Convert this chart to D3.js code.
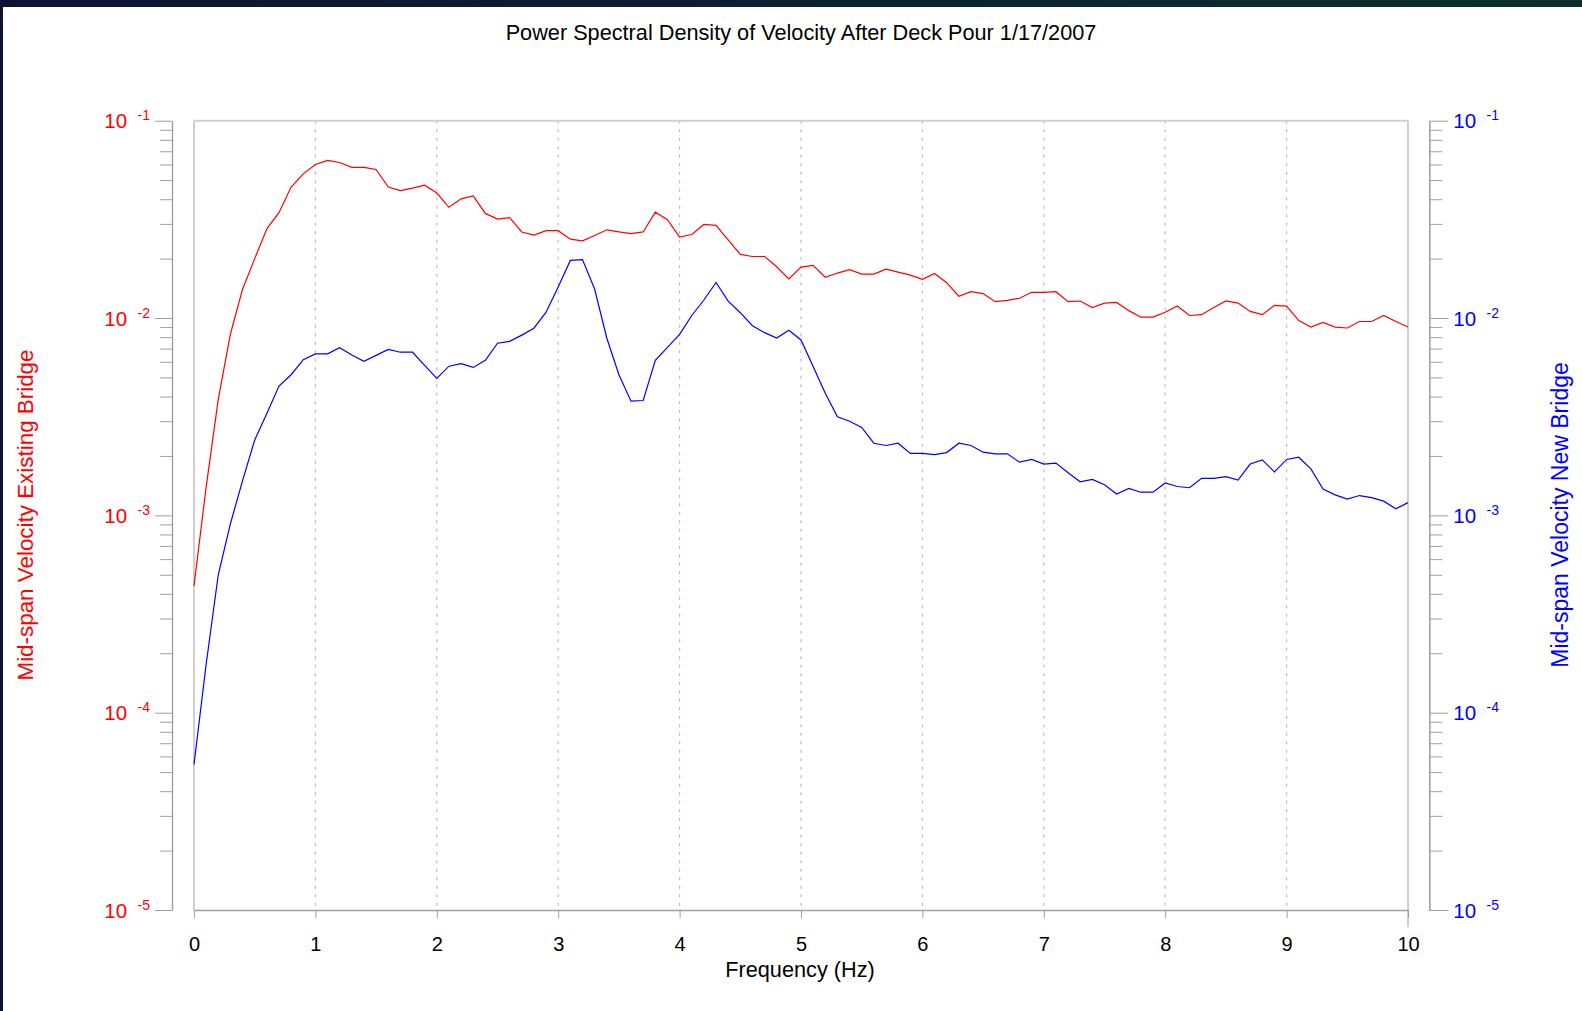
<!DOCTYPE html>
<html>
<head>
<meta charset="utf-8">
<script src="https://cdn.jsdelivr.net/npm/d3@7"></script>
<style>
  html, body { margin: 0; padding: 0; background: #fff; }
  svg { display: block; font-family: "Liberation Sans", Arial, sans-serif; }
  .axis path, .axis line { stroke: #a0a0a0; }
</style>
</head>
<body>
<svg id="chart"></svg>
<script>
const title = 'Power Spectral Density of Velocity After Deck Pour 1/17/2007';
const xLabel = 'Frequency (Hz)';
const leftLabel = 'Mid-span Velocity Existing Bridge';
const rightLabel = 'Mid-span Velocity New Bridge';

// frequency bins (Hz)
const frequency = [
  0, 0.1, 0.2, 0.3, 0.4, 0.5, 0.6, 0.7, 0.8, 0.9,
  1, 1.1, 1.2, 1.3, 1.4, 1.5, 1.6, 1.7, 1.8, 1.9,
  2, 2.1, 2.2, 2.3, 2.4, 2.5, 2.6, 2.7, 2.8, 2.9,
  3, 3.1, 3.2, 3.3, 3.4, 3.5, 3.6, 3.7, 3.8, 3.9,
  4, 4.1, 4.2, 4.3, 4.4, 4.5, 4.6, 4.7, 4.8, 4.9,
  5, 5.1, 5.2, 5.3, 5.4, 5.5, 5.6, 5.7, 5.8, 5.9,
  6, 6.1, 6.2, 6.3, 6.4, 6.5, 6.6, 6.7, 6.8, 6.9,
  7, 7.1, 7.2, 7.3, 7.4, 7.5, 7.6, 7.7, 7.8, 7.9,
  8, 8.1, 8.2, 8.3, 8.4, 8.5, 8.6, 8.7, 8.8, 8.9,
  9, 9.1, 9.2, 9.3, 9.4, 9.5, 9.6, 9.7, 9.8, 9.9,
  10
];

// PSD, existing bridge (left axis, red)
const existingBridge = [
  4.4e-4, 1.39e-3, 3.88e-3, 8.3e-3, 0.0140, 0.0200, 0.0283, 0.0342, 0.0461, 0.0538,
  0.0600, 0.0629, 0.0614, 0.0580, 0.0580, 0.0566, 0.0461, 0.0442, 0.0455, 0.0471,
  0.0430, 0.0364, 0.0402, 0.0416, 0.0339, 0.0317, 0.0323, 0.0273, 0.0263, 0.0277,
  0.0277, 0.0251, 0.0246, 0.0262, 0.0280, 0.0273, 0.0268, 0.0273, 0.0344, 0.0315,
  0.0257, 0.0265, 0.0298, 0.0295, 0.0249, 0.0210, 0.0205, 0.0205, 0.0182, 0.0158,
  0.0181, 0.0185, 0.0161, 0.0169, 0.0176, 0.0167, 0.0167, 0.0177, 0.0171, 0.0165,
  0.0157, 0.0168, 0.0151, 0.0129, 0.0136, 0.0133, 0.0121, 0.0123, 0.0126, 0.0135,
  0.0135, 0.0136, 0.0121, 0.0122, 0.0113, 0.0119, 0.0120, 0.0109, 0.0101, 0.0101,
  0.0107, 0.0115, 0.0103, 0.0104, 0.0113, 0.0122, 0.0119, 0.0108, 0.0104, 0.0116,
  0.0115, 0.0097, 0.0090, 0.0095, 0.0090, 0.0089, 0.0096, 0.0096, 0.0103, 0.0096,
  0.0090
];

// PSD, new bridge (right axis, blue)
const newBridge = [
  5.46e-5, 1.76e-4, 5.0e-4, 9.07e-4, 1.50e-3, 2.41e-3, 3.28e-3, 4.52e-3, 5.16e-3, 6.15e-3,
  6.58e-3, 6.58e-3, 7.07e-3, 6.49e-3, 6.04e-3, 6.47e-3, 6.93e-3, 6.71e-3, 6.71e-3, 5.76e-3,
  4.94e-3, 5.70e-3, 5.87e-3, 5.62e-3, 6.10e-3, 7.45e-3, 7.62e-3, 8.19e-3, 8.88e-3, 0.0107,
  0.01437, 0.01959, 0.01977, 0.01403, 7.92e-3, 5.16e-3, 3.79e-3, 3.82e-3, 6.10e-3, 7.10e-3,
  8.27e-3, 0.0103, 0.01234, 0.01514, 0.01217, 0.01064, 9.14e-3, 8.43e-3, 7.92e-3, 8.67e-3,
  7.74e-3, 5.68e-3, 4.16e-3, 3.16e-3, 3.00e-3, 2.79e-3, 2.32e-3, 2.26e-3, 2.32e-3, 2.06e-3,
  2.06e-3, 2.03e-3, 2.08e-3, 2.32e-3, 2.26e-3, 2.09e-3, 2.05e-3, 2.05e-3, 1.86e-3, 1.92e-3,
  1.82e-3, 1.84e-3, 1.645e-3, 1.48e-3, 1.52e-3, 1.43e-3, 1.283e-3, 1.37e-3, 1.31e-3, 1.31e-3,
  1.46e-3, 1.40e-3, 1.38e-3, 1.54e-3, 1.54e-3, 1.57e-3, 1.51e-3, 1.82e-3, 1.91e-3, 1.66e-3,
  1.92e-3, 1.97e-3, 1.72e-3, 1.36e-3, 1.27e-3, 1.21e-3, 1.26e-3, 1.23e-3, 1.18e-3, 1.08e-3,
  1.16e-3
];

const xTicks = [0, 1, 2, 3, 4, 5, 6, 7, 8, 9, 10];
const decades = [1e-1, 1e-2, 1e-3, 1e-4, 1e-5];
const exponents = ['-1', '-2', '-3', '-4', '-5'];

const width = 1582, height = 1011;
const plot = { left: 194, right: 1408, top: 120.7, bottom: 910 };
const leftAxisX = 172, rightAxisX = 1429.3;

const svg = d3.select('#chart')
  .attr('width', width)
  .attr('height', height);

// window chrome: dark strip on top and left edge
const grad = svg.append('defs').append('linearGradient')
  .attr('id', 'chrome')
  .attr('x1', '0%').attr('x2', '100%');
grad.append('stop').attr('offset', '0%').attr('stop-color', '#0f1331');
grad.append('stop').attr('offset', '100%').attr('stop-color', '#0b2f2d');
svg.append('rect').attr('width', width).attr('height', 7).attr('fill', 'url(#chrome)');
svg.append('rect').attr('width', 3).attr('height', height).attr('fill', '#0f1331');

const x = d3.scaleLinear().domain([0, 10]).range([plot.left, plot.right]);
const yLeft = d3.scaleLog().domain([1e-5, 1e-1]).range([plot.bottom, plot.top]);
const yRight = d3.scaleLog().domain([1e-5, 1e-1]).range([plot.bottom, plot.top]);

// minor tick values 2..9 x 10^k
const minorTicks = [];
decades.slice(1).forEach(d => {
  for (let m = 2; m <= 9; m++) minorTicks.push(d * m);
});

// dotted vertical grid
svg.append('g')
  .selectAll('line')
  .data(xTicks.slice(1, -1))
  .join('line')
  .attr('x1', d => x(d)).attr('x2', d => x(d))
  .attr('y1', plot.top).attr('y2', plot.bottom)
  .attr('stroke', '#bdbdbd')
  .attr('stroke-width', 1.2)
  .attr('stroke-dasharray', '3,5.5');

// plot frame (light gray)
const frame = svg.append('g')
  .attr('stroke', '#cfcfcf')
  .attr('stroke-width', 2)
  .attr('fill', 'none');
frame.append('line').attr('x1', plot.left).attr('x2', plot.right).attr('y1', plot.top).attr('y2', plot.top);
frame.append('line').attr('x1', plot.left).attr('x2', plot.left).attr('y1', plot.top).attr('y2', plot.bottom);
frame.append('line').attr('x1', plot.right).attr('x2', plot.right).attr('y1', plot.top).attr('y2', plot.bottom + 17);

// bottom axis
const xAxis = svg.append('g')
  .attr('class', 'axis')
  .attr('transform', `translate(0,${plot.bottom})`)
  .call(d3.axisBottom(x).tickValues(xTicks).tickSize(8).tickSizeOuter(0).tickPadding(18.8).tickFormat(d3.format('d')));
xAxis.selectAll('text')
  .attr('fill', '#000')
  .style('font-size', '20px');
xAxis.select('.domain').attr('stroke-width', 1.6);

function logAxis(scale, side, axisX, color, majorLen, minorLen) {
  const g = svg.append('g').attr('class', 'axis').attr('transform', `translate(${axisX},0)`);
  const make = side === 'left' ? d3.axisLeft : d3.axisRight;

  g.append('g')
    .call(make(scale).tickValues(minorTicks).tickSize(minorLen).tickSizeOuter(0).tickFormat(''));

  const major = g.append('g')
    .call(make(scale).tickValues(decades).tickSize(majorLen).tickSizeOuter(0).tickPadding(5).tickFormat(''));

  major.selectAll('.tick text')
    .attr('fill', color)
    .attr('dy', null)
    .attr('y', 7)
    .style('font-size', '20.5px')
    .each(function (d) {
      const t = d3.select(this);
      const i = decades.indexOf(d);
      t.append('tspan').text('10');
      t.append('tspan')
        .attr('dx', 10.5)
        .attr('dy', -8)
        .style('font-size', '14px')
        .text(exponents[i]);
    });
  g.selectAll('.domain').attr('stroke-width', 1.2);
}

logAxis(yLeft, 'left', leftAxisX, '#ff0000', 17, 12);
logAxis(yRight, 'right', rightAxisX, '#0000ff', 19, 13);

// series
const rows = frequency.map((f, i) => ({ f, a: existingBridge[i], b: newBridge[i] }));

const lineLeft = d3.line().x(d => x(d.f)).y(d => yLeft(d.a));
const lineRight = d3.line().x(d => x(d.f)).y(d => yRight(d.b));

svg.append('path')
  .datum(rows)
  .attr('fill', 'none')
  .attr('stroke', '#ff0000')
  .attr('stroke-width', 1.2)
  .attr('d', lineLeft);

svg.append('path')
  .datum(rows)
  .attr('fill', 'none')
  .attr('stroke', '#0000ff')
  .attr('stroke-width', 1.2)
  .attr('d', lineRight);

// texts
svg.append('text')
  .attr('x', 801).attr('y', 40)
  .attr('text-anchor', 'middle')
  .style('font-size', '21.7px')
  .text(title);

svg.append('text')
  .attr('x', 800).attr('y', 977)
  .attr('text-anchor', 'middle')
  .style('font-size', '21.7px')
  .text(xLabel);

svg.append('text')
  .attr('transform', 'translate(33,515) rotate(-90)')
  .attr('text-anchor', 'middle')
  .attr('fill', '#ff0000')
  .style('font-size', '22.4px')
  .text(leftLabel);

svg.append('text')
  .attr('transform', 'translate(1568,515) rotate(-90)')
  .attr('text-anchor', 'middle')
  .attr('fill', '#0000ff')
  .style('font-size', '23px')
  .text(rightLabel);
</script>
</body>
</html>
